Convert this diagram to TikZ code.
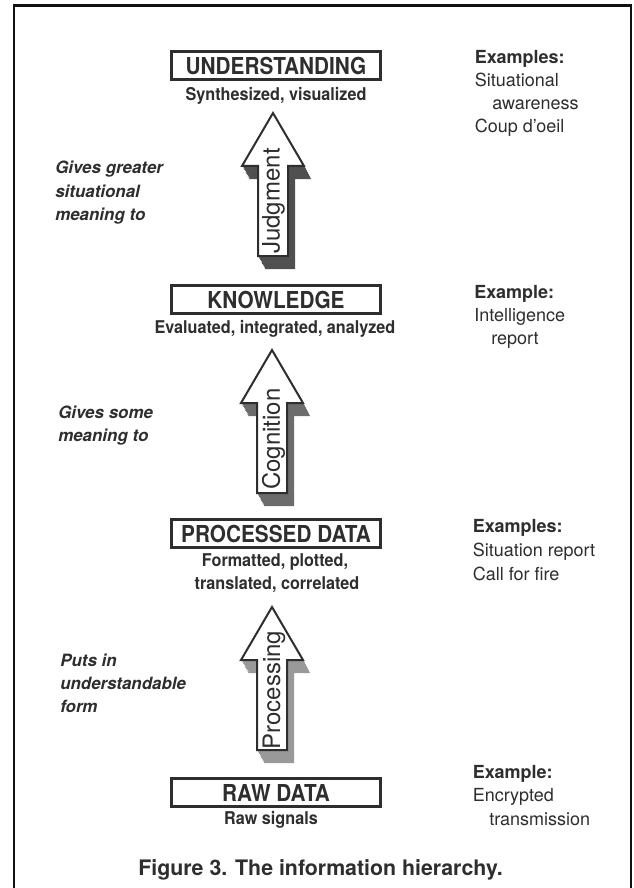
\documentclass[tikz,border=0pt]{standalone}
\usepackage{fontspec}
\setmainfont{TeX Gyre Heros}
\newfontfamily\narrowfont[FakeStretch=0.89]{TeX Gyre Heros}
\newfontfamily\subfont[FakeStretch=0.92]{TeX Gyre Heros}
\usepackage{tikz}
\usetikzlibrary{positioning}
\definecolor{ink}{HTML}{2E2E2E}
\definecolor{frameline}{HTML}{111111}
\definecolor{shadeA}{HTML}{505050}
\definecolor{shadeB}{HTML}{6C6C6C}
\definecolor{shadeC}{HTML}{999999}
\tikzset{
  frame/.style={draw=frameline, line width=2pt},
  level/.style={draw=ink, line width=2.5pt, fill=white, minimum width=156.5pt,
    minimum height=20.8pt, inner sep=0pt, text=ink,
    font=\narrowfont\bfseries\fontsize{17.5}{20}\selectfont},
  sub/.style={anchor=base, inner sep=0pt, text=ink,
    font=\subfont\bfseries\fontsize{13.2}{15}\selectfont},
  eg/.style={anchor=base west, inner sep=0pt, text=ink, font=\fontsize{13.5}{16}\selectfont},
  eghead/.style={eg, font=\bfseries\fontsize{13.5}{16}\selectfont},
  why/.style={anchor=base west, inner sep=0pt, text=ink,
    font=\bfseries\itshape\fontsize{12.7}{15}\selectfont},
  arrowlab/.style={rotate=90, inner sep=0pt, text=ink, font=\fontsize{18}{20}\selectfont},
  caption/.style={anchor=base, inner sep=0pt, text=ink, font=\bfseries\fontsize{16}{19}\selectfont},
  blockarrow/.pic={
    \path[pic actions] (0,0) -- ++(31,53) -- ++(-16,0) -- ++(0,90) -- ++(-30,0)
      -- ++(0,-90) -- ++(-16,0) -- cycle;
  },
}

\begin{document}
\begin{tikzpicture}[x=0.75pt, y=-0.75pt]
  \useasboundingbox (0,0) rectangle (634,888);
  \fill[white] (0,0) rectangle (634,888);
  \draw[frame] (14,890) -- (14,5.5) -- (631,5.5) -- (631,890);

  % the four levels
  \node[level] (under) at (276,65.5)  {UNDERSTANDING};
  \node[level] (know)  at (276,299.5) {KNOWLEDGE};
  \node[level] (proc)  at (276,533.5) {PROCESSED DATA};
  \node[level] (raw)   at (276,792.5) {RAW DATA};

  \node[sub] (underdesc) at (276,101) {Synthesized, visualized};
  \node[sub] (knowdesc)  at (275,333) {Evaluated, integrated, analyzed};
  \node[sub] (procdesc)  at (275,566) {Formatted, plotted,};
  \node[sub] (procdescb) at (277,589) {translated, correlated};
  \node[sub] (rawdesc)   at (271,824) {Raw signals};

  % block arrows, extruded
  \coordinate (jtip) at (273,113);
  \coordinate (ctip) at (272,350);
  \coordinate (ptip) at (272,607);
  \foreach \apex/\tone in {jtip/shadeA, ctip/shadeB, ptip/shadeC}{
    \foreach \k in {1,...,10}
      \pic[fill=\tone] at ([shift={(0.7*\k,1.3*\k)}]\apex) {blockarrow};
    \pic[fill=white, draw=ink, line width=1.5pt, line join=miter] at (\apex) {blockarrow};
  }
  \node[arrowlab] (judg) at (273.5,201) {Judgment};
  \node[arrowlab] (cogn) at (273.5,439) {Cognition};
  \node[arrowlab] (prcs) at (274,690)   {Processing};

  % what each step does
  \node[why] (whyj1) at (55,174) {Gives greater};
  \node[why] (whyj2) at (55,197) {situational};
  \node[why] (whyj3) at (55,220) {meaning to};
  \node[why] (whyc1) at (58,418) {Gives some};
  \node[why] (whyc2) at (58,441) {meaning to};
  \node[why] (whyp1) at (60,666) {Puts in};
  \node[why] (whyp2) at (60,689) {understandable};
  \node[why] (whyp3) at (60,712) {form};

  % examples
  \node[eghead] (egu0) at (474.5,64)  {Examples:};
  \node[eg]     (egu1) at (474.5,87)  {Situational};
  \node[eg]     (egu2) at (492,110)   {awareness};
  \node[eg]     (egu3) at (474.5,133) {Coup d'oeil};
  \node[eghead] (egk0) at (474,298)   {Example:};
  \node[eg]     (egk1) at (474,321)   {Intelligence};
  \node[eg]     (egk2) at (491,344)   {report};
  \node[eghead] (egp0) at (472.5,532) {Examples:};
  \node[eg]     (egp1) at (472.5,556) {Situation report};
  \node[eg]     (egp2) at (472.5,580) {Call for fire};
  \node[eghead] (egr0) at (472.5,778) {Example:};
  \node[eg]     (egr1) at (472.5,801) {Encrypted};
  \node[eg]     (egr2) at (489,825)   {transmission};

  \node[caption] (cap) at (320.5,875) {Figure 3. The information hierarchy.};
\end{tikzpicture}
\end{document}
